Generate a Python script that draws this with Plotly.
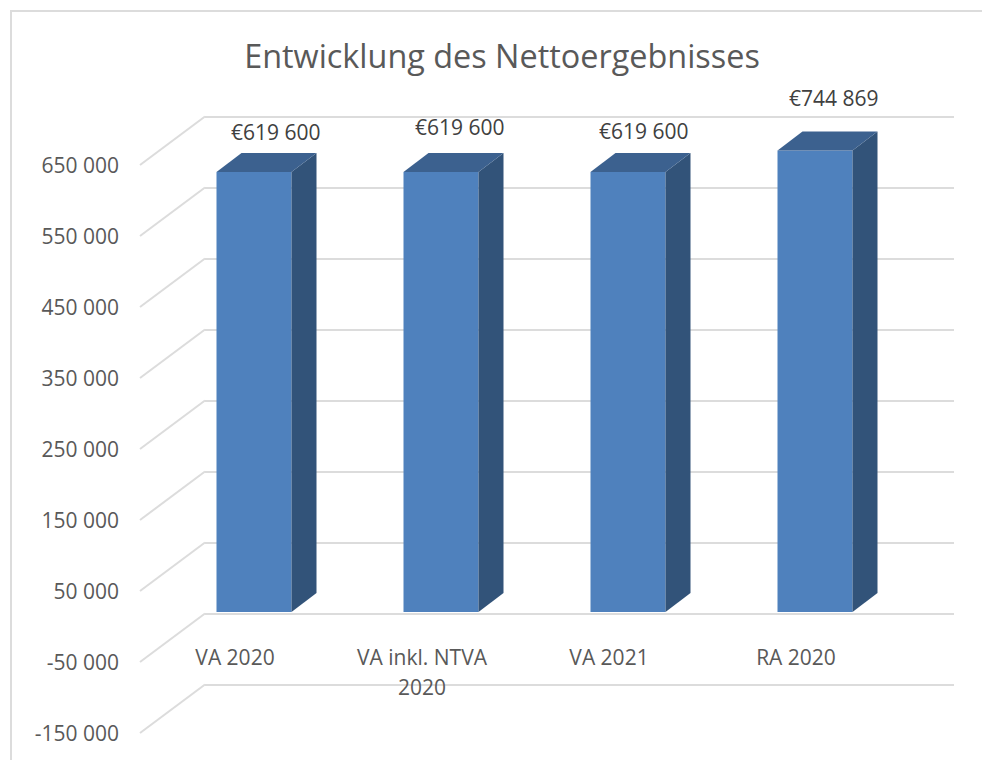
import numpy as np
import plotly.graph_objects as go

# ---------- data ----------
title = "Entwicklung des Nettoergebnisses"
categories = ["VA 2020", "VA inkl. NTVA", "VA 2021", "RA 2020"]
category_wrap = ["", "2020", "", ""]
values = [619600, 619600, 619600, 744869]
value_labels = ["€619 600", "€619 600", "€619 600", "€744 869"]
y_ticks = [650000, 550000, 450000, 350000, 250000, 150000, 50000, -50000, -150000]
y_tick_labels = ["650 000", "550 000", "450 000", "350 000", "250 000",
                 "150 000", "50 000", "-50 000", "-150 000"]
axis_max = 650000   # the value axis is capped here, so taller bars are clipped

# ---------- look ----------
W, H = 982, 760
PX_PER_UNIT_Y = 71 / 100000
PX_PER_CAT = 187
FONT = "Open Sans, sans-serif"
C_TEXT, C_LABEL = "#595959", "#404040"
C_GRID = "#dcdcdc"
C_FRONT, C_SIDE, C_TOP = "#4f81bd", "#325379", "#3c618f"

BAR_ZERO_PX = 612       # bar plane: pixel row of value 0
FIRST_BAR_PX = 254      # pixel column of first bar centre
BAR_W = 75 / PX_PER_CAT
DEPTH_X = 25 / PX_PER_CAT
DEPTH_Y = 19 / PX_PER_UNIT_Y

x_idx = np.arange(len(categories), dtype=float)
drawn = np.minimum(values, axis_max).astype(float)


def yrange(zero_px):
    """axis range so value 0 falls on the pixel row zero_px, full window height"""
    return [-(H - zero_px) / PX_PER_UNIT_Y, zero_px / PX_PER_UNIT_Y]


def xrange(first_px):
    return [-first_px / PX_PER_CAT, (W - first_px) / PX_PER_CAT]


BACK_ZERO_PX = 116.5 + axis_max * PX_PER_UNIT_Y
FRONT_ZERO_PX = 165 + axis_max * PX_PER_UNIT_Y

fig = go.Figure()

# diagonal floor/wall lines, in bar-plane coordinates
front_shift = (BAR_ZERO_PX - FRONT_ZERO_PX) / PX_PER_UNIT_Y
back_shift = (BAR_ZERO_PX - BACK_ZERO_PX) / PX_PER_UNIT_Y
fx = (140 - FIRST_BAR_PX) / PX_PER_CAT
bx = (205 - FIRST_BAR_PX) / PX_PER_CAT
for t in y_ticks:
    fig.add_trace(go.Scatter(x=[fx, bx], y=[t + front_shift, t + back_shift], mode="lines",
                             line=dict(color=C_GRID, width=2), xaxis="x2", yaxis="y2",
                             hoverinfo="skip", showlegend=False))

# side and top faces
for x, v in zip(x_idx, drawn):
    l, r = x - BAR_W / 2, x + BAR_W / 2
    fig.add_trace(go.Scatter(x=[r, r + DEPTH_X, r + DEPTH_X, r, r],
                             y=[0, DEPTH_Y, v + DEPTH_Y, v, 0],
                             fill="toself", fillcolor=C_SIDE, mode="none",
                             xaxis="x2", yaxis="y2", hoverinfo="skip", showlegend=False))
    fig.add_trace(go.Scatter(x=[l, l + DEPTH_X, r + DEPTH_X, r, l],
                             y=[v, v + DEPTH_Y, v + DEPTH_Y, v, v],
                             fill="toself", fillcolor=C_TOP, mode="none",
                             xaxis="x2", yaxis="y2", hoverinfo="skip", showlegend=False))

# front faces
fig.add_trace(go.Bar(x=x_idx, y=drawn, width=BAR_W, marker=dict(color=C_FRONT, line=dict(width=0)),
                     xaxis="x2", yaxis="y2", showlegend=False))

annotations = []
# data labels: nudged from the back-top edge of each bar
label_dx = [9.5, 6.5, 3.5, 6.5]
label_dy = [21, 26, 22, 34]
for x, v, txt, dx, dy in zip(x_idx, drawn, value_labels, label_dx, label_dy):
    annotations.append(dict(x=x + DEPTH_X / 2, y=v + DEPTH_Y, xref="x2", yref="y2", text=txt,
                            showarrow=False, xshift=dx, yshift=dy, xanchor="center", yanchor="middle",
                            font=dict(family=FONT, size=21, color=C_LABEL)))
# wrapped second line of category labels
for x, txt in zip(x_idx, category_wrap):
    if txt:
        annotations.append(dict(x=x, y=0, xref="x2", yref="y2", text=txt, showarrow=False,
                                xshift=-19, yshift=-75, yanchor="middle", xanchor="center",
                                font=dict(family=FONT, size=21, color=C_TEXT)))

hidden = dict(showgrid=False, zeroline=False, showline=False, showticklabels=False, ticks="")

fig.update_layout(
    width=W, height=H, autosize=False,
    margin=dict(l=0, r=0, t=0, b=0, pad=0),
    paper_bgcolor="white", plot_bgcolor="rgba(0,0,0,0)",
    showlegend=False, hovermode=False,
    title=dict(text=title, x=502 / W, xanchor="center", y=1 - 57 / H, yanchor="middle",
               font=dict(family=FONT, size=32.4, color=C_TEXT)),
    # back wall grid
    xaxis=dict(domain=[205 / W, 954 / W], range=[0, 1], **hidden),
    yaxis=dict(domain=[0, 1], range=yrange(BACK_ZERO_PX), anchor="x", tickmode="array", tickvals=y_ticks,
               showgrid=True, gridcolor=C_GRID, gridwidth=2, zeroline=False, showline=False,
               showticklabels=False, ticks=""),
    # bar plane
    xaxis2=dict(domain=[0, 1], range=xrange(FIRST_BAR_PX), anchor="y2", **hidden),
    yaxis2=dict(domain=[0, 1], range=yrange(BAR_ZERO_PX), anchor="x2", **hidden),
    # front plane: tick labels
    xaxis3=dict(domain=[0, 1], range=xrange(FIRST_BAR_PX - 19), anchor="free", overlaying="x2",
                position=1 - 643 / H, side="bottom", tickmode="array", tickvals=x_idx.tolist(), ticktext=categories,
                showgrid=False, zeroline=False, showline=False, ticks="",
                tickfont=dict(family=FONT, size=21, color=C_TEXT), tickangle=0),
    yaxis3=dict(domain=[0, 1], range=yrange(FRONT_ZERO_PX + 1), anchor="free", overlaying="y2",
                position=119 / W, side="left", tickmode="array", tickvals=y_ticks, ticktext=y_tick_labels,
                showgrid=False, zeroline=False, showline=False, ticks="",
                tickfont=dict(family=FONT, size=21, color=C_TEXT)),
    annotations=annotations,
    shapes=[
        dict(type="line", xref="paper", yref="paper", x0=11 / W, x1=1, y0=1 - 11 / H, y1=1 - 11 / H,
             line=dict(color=C_GRID, width=2)),
        dict(type="line", xref="paper", yref="paper", x0=11 / W, x1=11 / W, y0=0, y1=1 - 10 / H,
             line=dict(color=C_GRID, width=2)),
    ],
)
# invisible carriers so that the extra axes are drawn
fig.add_trace(go.Scatter(x=[0], y=[0], mode="none", xaxis="x", yaxis="y", hoverinfo="skip"))
fig.add_trace(go.Scatter(x=[0], y=[0], mode="none", xaxis="x3", yaxis="y3", hoverinfo="skip"))

fig.write_html("out.html", config=dict(displayModeBar=False), post_script="document.body.style.margin='0';")
